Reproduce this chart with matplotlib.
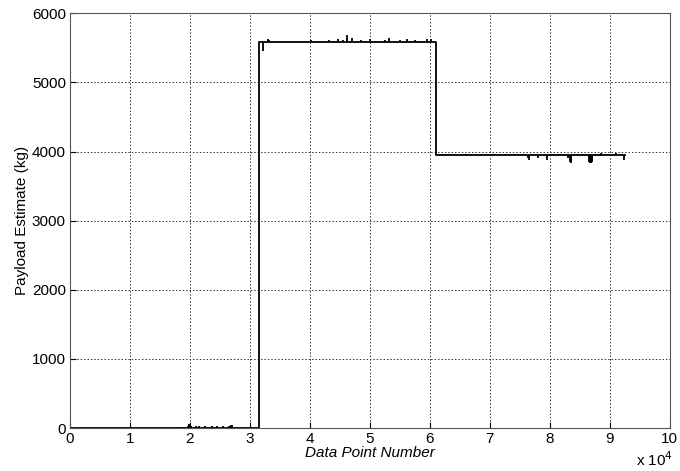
import matplotlib.pyplot as plt
from matplotlib.ticker import FuncFormatter

plt.rcParams['font.family'] = ['Liberation Sans', 'DejaVu Sans']

# payload estimate: three plateaus (start, end, kg)
seg_start = [0, 31500, 61000]
seg_end = [31500, 61000, 92500]
seg_level = [0, 5580, 3950]

# short spikes / dips off the plateaus (data point number, kg)
spike_x = [17800, 18500, 19700, 19800, 19900, 20100, 21000, 21500, 22500,
           23300, 23600, 24500, 25500, 26500, 26900, 27000, 28900,
           32200, 33000, 33100, 40100, 43100, 44000, 44600, 45500, 46100, 46200,
           47000, 48500, 50000, 51000, 52500, 53100, 55000, 56100, 57500, 58200,
           59500, 60200,
           66000, 70500, 72500, 74000, 75500, 76300, 76600, 78000, 79600, 80500,
           81500, 83000, 83400, 83500, 83600, 84500, 85500, 86600, 86700, 86800,
           86900, 87000, 87100, 87500, 88500, 89500, 91000, 92400]
spike_y = [20, 15, 30, 60, 40, 30, 25, 30, 30,
           20, 30, 30, 30, 25, 40, 50, 20,
           5450, 5620, 5610, 5610, 5610, 5605, 5620, 5610, 5680, 5630,
           5640, 5610, 5620, 5600, 5610, 5640, 5610, 5630, 5610, 5600,
           5620, 5630,
           3965, 3970, 3965, 3970, 3970, 3900, 3870, 3900, 3880, 3960,
           3970, 3900, 3850, 3840, 3850, 3970, 3960, 3850, 3840, 3840,
           3840, 3850, 3860, 3970, 3980, 3970, 3975, 3870]

x_ticks = [0, 10000, 20000, 30000, 40000, 50000, 60000, 70000, 80000, 90000, 100000]
y_ticks = [0, 1000, 2000, 3000, 4000, 5000, 6000]

fig = plt.figure(figsize=(6.8, 4.71), dpi=100)
ax = fig.add_axes([0.103, 0.091, 0.882, 0.881])

# plateaus joined by vertical steps
xs, ys = [], []
for a, b, lv in zip(seg_start, seg_end, seg_level):
    xs += [a, b]
    ys += [lv, lv]
ax.plot(xs, ys, color='black', linewidth=1.3)

# spikes measured from the plateau they sit on
for x, y in zip(spike_x, spike_y):
    for a, b, lv in zip(seg_start, seg_end, seg_level):
        if a <= x < b:
            ax.vlines(x, lv, y, color='black', linewidth=1.3)

ax.set_xlim(0, 100000)
ax.set_ylim(0, 6000)
ax.set_xticks(x_ticks)
ax.set_yticks(y_ticks)
ax.xaxis.set_major_formatter(FuncFormatter(lambda v, p: f'{v / 10000:g}'))
ax.grid(True, color='#333333', linestyle=(0, (1.5, 2)), linewidth=0.7)
ax.tick_params(direction='in', length=4, labelsize=11, pad=3)
for s in ax.spines.values():
    s.set_color('#555555')

ax.set_xlabel('Data Point Number', fontsize=11, style='italic', labelpad=0)
ax.set_ylabel('Payload Estimate (kg)', fontsize=11, labelpad=2)
fig.text(0.935, 0.01, 'x 10$^4$', fontsize=11)

fig.savefig('out.png', dpi=100)
